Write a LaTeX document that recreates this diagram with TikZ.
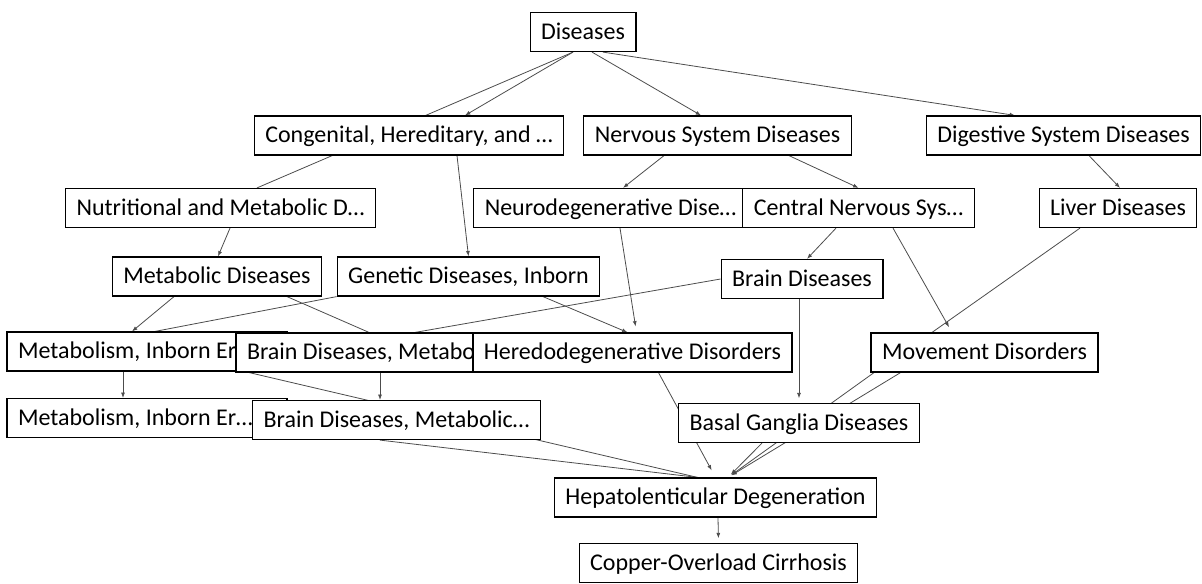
\documentclass[tikz,border=0pt]{standalone}
\usepackage{fontspec}
\setmainfont{Carlito}
\usetikzlibrary{calc, arrows.meta}
\pgfdeclarelayer{bg}
\pgfsetlayers{bg,main}

\begin{document}
\begin{tikzpicture}[x=0.75pt,y=0.75pt,yscale=-1,xscale=1,
    box/.style={draw, line width=0.9pt, fill=white, inner xsep=8.25pt, inner ysep=0pt,
        minimum height=29.25pt, text height=14pt, text depth=3pt,
        font=\fontsize{18}{21}\selectfont},
    cutbox/.style={box, minimum width=210pt},
    link/.style={draw=black!70, line width=0.6pt},
    arr/.style={link, -{Latex[length=4pt,width=3pt]}}]
    \useasboundingbox (0,0) rectangle (1202,583);

    % Text Node
    \node[box] (dis) at (583,32) {Diseases};
    % Text Node
    \node[box] (cong) at (409,135.5) {Congenital, Hereditary, and …};
    \node[box] (nerv) at (717.5,135.5) {Nervous System Diseases};
    \node[box] (dig) at (1063.5,135.5) {Digestive System Diseases};
    % Text Node
    \node[box] (nutr) at (220.5,208) {Nutritional and Metabolic D…};
    \node[box] (neuro) at (610.5,208) {Neurodegenerative Dise…};
    \node[box] (central) at (858.5,208) {Central Nervous Sys…};
    \node[box] (liver) at (1118,208) {Liver Diseases};
    % Text Node
    \node[box] (metd) at (217,276.5) {Metabolic Diseases};
    \node[box] (genetic) at (468.5,276.5) {Genetic Diseases, Inborn};
    \node[box] (brain) at (802,279) {Brain Diseases};
    % Text Node
    \node[cutbox] (metab1) at (147,351.5) {\makebox[193.5pt][l]{Metabolism, Inborn Er…}};
    \node[cutbox] (braind1) at (376,352.5) {\makebox[193.5pt][l]{Brain Diseases, Metabolic…}};
    \node[box] (hered) at (632.5,352.5) {Heredodegenerative Disorders};
    \node[box] (move) at (984.5,352.5) {Movement Disorders};
    % Text Node
    \node[cutbox] (metab2) at (147,418) {\makebox[193.5pt][l]{Metabolism, Inborn Er…}};
    \node[box] (braind2) at (396.5,420) {Brain Diseases, Metabolic…};
    \node[box] (basal) at (799,423) {Basal Ganglia Diseases};
    % Text Node
    \node[box] (hepato) at (715.5,497.5) {Hepatolenticular Degeneration};
    \node[box] (copper) at (718.5,563) {Copper-Overload Cirrhosis};

    \begin{pgfonlayer}{bg}
    % Edges
    \draw[link] ($(dis.south)+(-10,0)$) -- ($(nutr.north)+(36.5,0)$);
    \draw[arr] ($(dis.south)+(-10,0)$) -- ($(cong.north)+(56,0)$);
    \draw[arr] ($(dis.south)+(9,0)$) -- ($(nerv.north)+(-16.5,0)$);
    \draw[arr] ($(dis.south)+(20,0)$) -- ($(dig.north)+(-48.5,0)$);
    \draw[arr] ($(cong.south)+(48,0)$) -- (genetic.north);
    \draw[arr] ($(nutr.south)+(9.5,0)$) -- ($(metd.north)+(1,0)$);
    \draw[arr] ($(nerv.south)+(-53.5,0)$) -- ($(neuro.north)+(12.5,0)$);
    \draw[arr] ($(nerv.south)+(71.5,0)$) -- (central.north);
    \draw[arr] ($(dig.south)+(25.5,0)$) -- ($(liver.north)+(2,0)$);
    \draw[arr, shorten >=4.5pt] ($(neuro.south)+(9.5,0)$) -- ($(hered.north)+(4,0)$);
    \draw[arr] ($(central.south)+(-22.5,0)$) -- ($(brain.north)+(5,0)$);
    \draw[arr, shorten >=4.5pt] ($(central.south)+(34.5,0)$) -- ($(move.north)+(-32.5,0)$);
    \draw[link] ($(liver.south)+(-38,0)$) -- ($(move.north)+(-52.5,0)$);
    \draw[arr] ($(metd.south)+(-43,0)$) -- ($(metab1.north)+(-15,0)$);
    \draw[link] ($(metd.south)+(70,0)$) -- ($(braind1.north)+(-7,0)$);
    \draw[link] (genetic.south west) -- ($(metab1.north)+(8,0)$);
    \draw[arr] ($(genetic.south)+(74.5,0)$) -- ($(hered.north)+(-5,0)$);
    \draw[link] (brain.west) -- ($(braind1.north)+(39,0)$);
    \draw[arr] ($(braind1.south)+(4,0)$) -- ($(braind2.north)+(-16.5,0)$);
    \draw[arr] ($(metab1.south)+(-24,0)$) -- ($(metab2.north)+(-24,0)$);
    \draw[link] ($(metab1.south)+(98,0)$) -- ($(hepato.north)+(-18,0)$);
    \draw[arr, shorten >=3.5pt] ($(brain.south)+(-3,0)$) -- (basal.north);
    \draw[arr, shorten >=6pt] ($(hered.south)+(26,0)$) -- (hepato.north);
    \draw[arr, shorten >=3pt] ($(move.south)+(-110.5,0)$) -- ($(hepato.north)+(12.5,0)$);
    \draw[arr, shorten >=3pt] ($(move.south)+(-84,0)$) -- ($(hepato.north)+(12.5,0)$);
    \draw[arr, shorten >=3pt] ($(basal.south)+(-37,0)$) -- ($(hepato.north)+(12.5,0)$);
    \draw[link] ($(braind2.south)+(-16.5,0)$) -- ($(hepato.north)+(-18,0)$);
    \draw[arr, shorten >=3.5pt] ($(hepato.south)+(2.5,0)$) -- (copper.north);
    \end{pgfonlayer}

\end{tikzpicture}
\end{document}
